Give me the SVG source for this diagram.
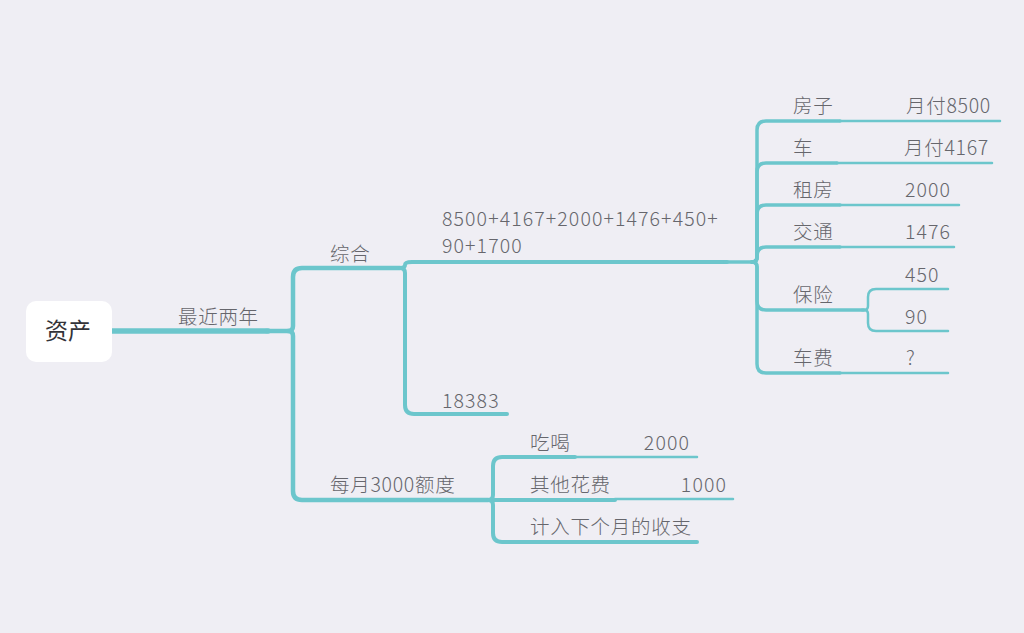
<svg xmlns="http://www.w3.org/2000/svg" width="1024" height="633" viewBox="0 0 1024 633">
<style>
.t{font-family:"Noto Sans CJK SC","Noto Sans",sans-serif;font-size:19.5px;font-weight:300;letter-spacing:0.7px;fill:#66666c}
.n{letter-spacing:1.1px}
.r{font-family:"Noto Sans CJK SC","Noto Sans",sans-serif;font-size:23px;font-weight:400;fill:#333338}
.c{fill:none;stroke:#6cc6cc;stroke-linecap:round;stroke-linejoin:round}
.w1{stroke-width:5.5}.w2{stroke-width:4.5}.w3{stroke-width:4}.w4{stroke-width:3.5}.w5{stroke-width:2.5}
</style>
<rect width="1024" height="633" fill="#efeef4"/>
<g id="connectors">
<path class="c w1" d="M112 331 H268"/>
<path class="c w2" d="M266 331 H288 Q293 331 293 326 V277 Q293 268 302 268 H400"/>
<path class="c w2" d="M288 331 Q293 331 293 336 V491 Q293 500 302 500 H488"/>
<path class="c w3" d="M400 268 Q405 268 405 265 Q405 262 412 262 H727"/>
<path class="c w3" d="M400 268 Q405 268 405 273 V405 Q405 414 414 414 H507"/>
<path class="c w3" d="M488 500 Q493 500 493 495 V466 Q493 457 502 457 H575"/>
<path class="c w3" d="M488 500 H615"/>
<path class="c w3" d="M488 500 Q493 500 493 505 V533 Q493 542 502 542 H697"/>
<path class="c w5" d="M575 457 H697"/>
<path class="c w5" d="M615 499 H733"/>
<path class="c w4" d="M725 262 H752 Q757 262 757 257 V130 Q757 121 766 121 H840"/>
<path class="c w4" d="M752 262 Q757 262 757 257 V172 Q757 163 766 163 H837"/>
<path class="c w4" d="M752 262 Q757 262 757 257 V214 Q757 205 766 205 H840"/>
<path class="c w4" d="M752 262 Q757 262 757 257 V256 Q757 247 766 247 H840"/>
<path class="c w4" d="M752 262 Q757 262 757 267 V301 Q757 310 766 310 H864"/>
<path class="c w4" d="M752 262 Q757 262 757 267 V364 Q757 373 766 373 H840"/>
<path class="c w5" d="M840 121 H1000"/>
<path class="c w5" d="M837 163 H992"/>
<path class="c w5" d="M840 205 H959"/>
<path class="c w5" d="M840 247 H954"/>
<path class="c w5" d="M840 373 H948"/>
<path class="c w5" d="M862 310 H864 Q868 310 868 306 V297 Q868 289 876 289 H948"/>
<path class="c w5" d="M862 310 H864 Q868 310 868 314 V323 Q868 331 876 331 H948"/>
</g>
<g id="root"><rect x="26" y="301" width="86" height="61" rx="10" fill="#ffffff"/><text class="r" x="68" y="339" text-anchor="middle">资产</text></g>
<g id="n-recent"><text class="t" x="178" y="324">最近两年</text></g>
<g id="n-total"><text class="t" x="330" y="261">综合</text></g>
<g id="n-sum"><text class="t n" x="442" y="226">8500+4167+2000+1476+450+</text><text class="t n" x="442" y="253">90+1700</text></g>
<g id="n-18383"><text class="t n" x="442" y="408">18383</text></g>
<g id="n-monthly"><text class="t" x="330" y="492">每月3000额度</text></g>
<g id="n-food"><text class="t" x="530" y="450">吃喝</text><text class="t n" x="690" y="450" text-anchor="end">2000</text></g>
<g id="n-other"><text class="t" x="530" y="492">其他花费</text><text class="t n" x="727" y="492" text-anchor="end">1000</text></g>
<g id="n-next"><text class="t" x="530" y="534">计入下个月的收支</text></g>
<g id="n-house"><text class="t" x="793" y="113">房子</text><text class="t" x="906" y="113">月付8500</text></g>
<g id="n-car"><text class="t" x="793" y="155">车</text><text class="t" x="904" y="155">月付4167</text></g>
<g id="n-rent"><text class="t" x="793" y="197">租房</text><text class="t n" x="905" y="197">2000</text></g>
<g id="n-traffic"><text class="t" x="793" y="239">交通</text><text class="t n" x="905" y="239">1476</text></g>
<g id="n-insurance"><text class="t" x="793" y="302">保险</text><text class="t n" x="905" y="282">450</text><text class="t n" x="905" y="324">90</text></g>
<g id="n-carfee"><text class="t" x="793" y="365">车费</text><text class="t" x="906" y="365">?</text></g>
</svg>
